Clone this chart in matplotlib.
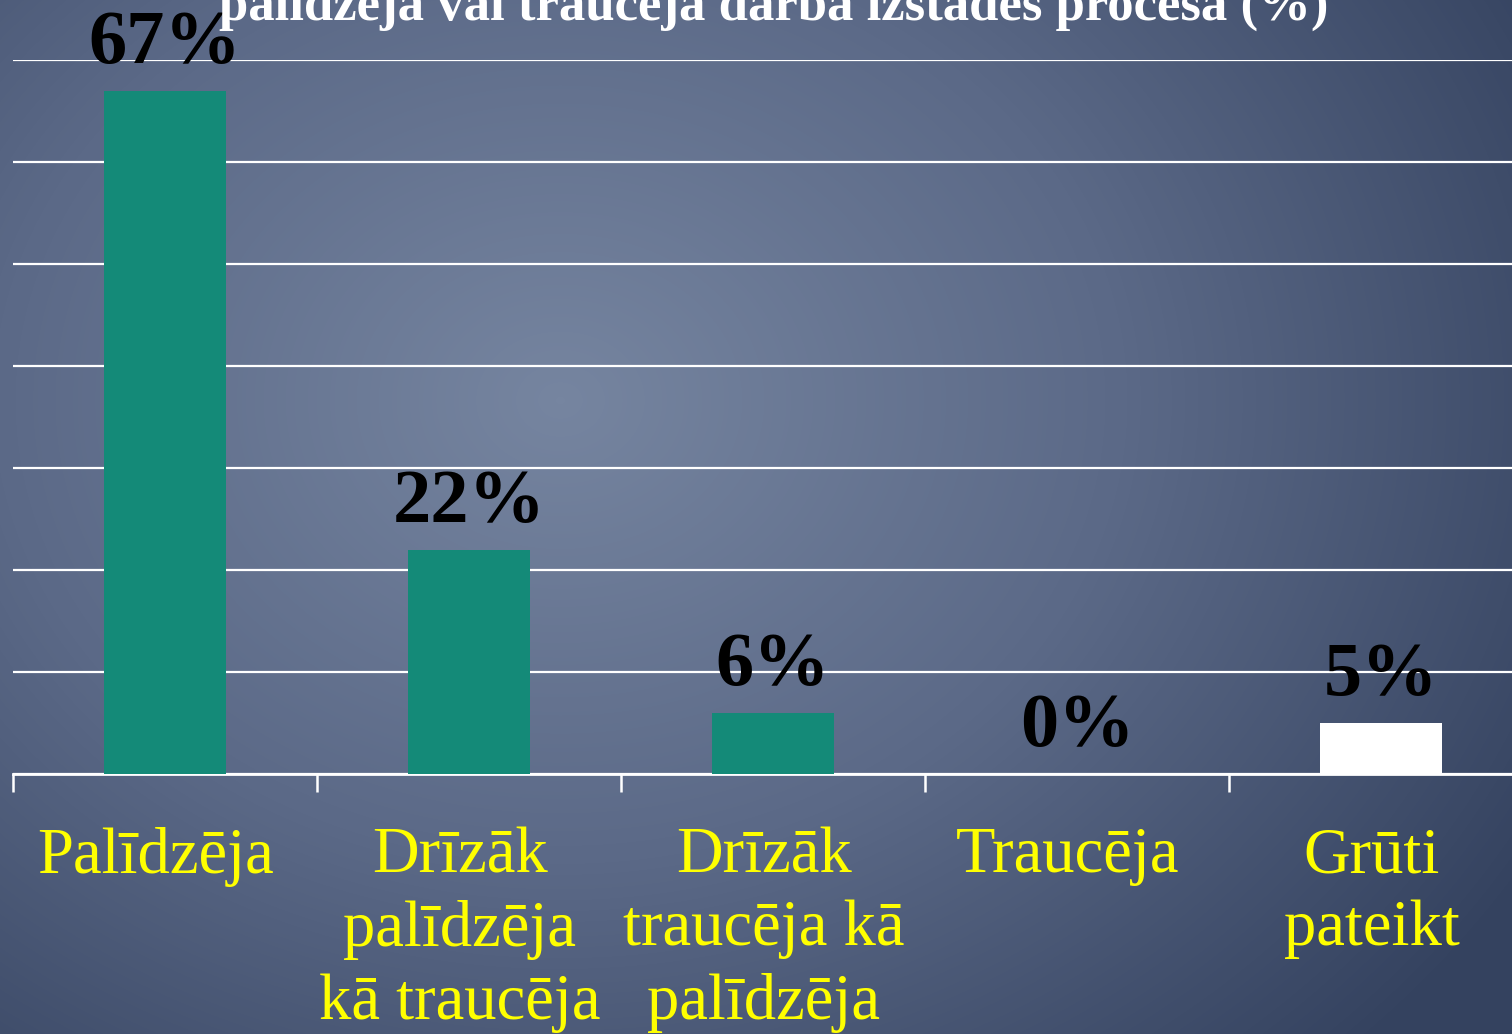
import numpy as np
import matplotlib.pyplot as plt
from matplotlib.colors import LinearSegmentedColormap

# data
categories = ["Palīdzēja", "Drīzāk\npalīdzēja\nkā traucēja", "Drīzāk\ntraucēja kā\npalīdzēja",
              "Traucēja", "Grūti\npateikt"]
values = [67, 22, 6, 0, 5]
value_labels = ["67%", "22%", "6%", "0%", "5%"]
title = "palīdzēja vai traucēja darba izstādes procesā (%)"

bar_colors = ["#148a78", "#148a78", "#148a78", "#148a78", "#ffffff"]

plt.rcParams['font.family'] = ['Liberation Serif', 'DejaVu Serif']

fig = plt.figure(figsize=(15.12, 10.34), dpi=100)

# background gradient
bg = fig.add_axes([0, 0, 1, 1])
bg.set_axis_off()
yy, xx = np.mgrid[0:1034, 0:1512]
d = np.sqrt(((xx - 560) / 1512.0) ** 2 + ((yy - 400) / 1034.0) ** 2 * 0.7)
d = np.clip(d / 0.75, 0, 1)
cmap = LinearSegmentedColormap.from_list("bg", ["#7685a0", "#5b6987", "#34425f"])
bg.imshow(d, cmap=cmap, aspect='auto', extent=[0, 1, 0, 1], origin='upper')
bg.set_xlim(0, 1)
bg.set_ylim(0, 1)

# main axes: left x=13, baseline y=774, top gridline y=60
W, H = 1512.0, 1034.0
left = 13 / W
bottom = (H - 774) / H
width = (304 * 5) / W
height = (774 - 60) / H
ax = fig.add_axes([left, bottom, width, height])
ax.patch.set_alpha(0)

x = np.arange(len(categories))
ax.bar(x, values, width=0.4, color=bar_colors, zorder=3)
ax.set_xlim(-0.5, len(categories) - 0.5)
ax.set_ylim(0, 70)

ax.set_yticks(np.arange(0, 71, 10))
ax.yaxis.grid(True, color='white', linewidth=1.6, zorder=0)
ax.tick_params(axis='y', length=0, labelleft=False)
ax.set_xticks(np.arange(-0.5, len(categories) - 0.5, 1))
ax.tick_params(axis='x', length=13, width=1.8, color='white', direction='out', labelbottom=False)
for s in ['top', 'right', 'left']:
    ax.spines[s].set_visible(False)
ax.spines['bottom'].set_color('white')
ax.spines['bottom'].set_linewidth(2)

for xi, v, lab in zip(x, values, value_labels):
    ax.annotate(lab, (xi, v), xytext=(0, 20), textcoords='offset points',
                ha='center', va='baseline', fontsize=55, fontweight='bold', color='black',
                clip_on=False, zorder=5)

for xi, cat in zip(x, categories):
    ax.annotate(cat, (xi, 0), xytext=(-6.5, -38), textcoords='offset points',
                ha='center', va='top', fontsize=46.5, color='#ffff00',
                linespacing=1.3, clip_on=False)

fig.text(774 / W, 1 - 20 / H, title, ha='center', va='baseline', fontsize=38,
         fontweight='bold', color='white')

fig.savefig("out.png", dpi=100)
